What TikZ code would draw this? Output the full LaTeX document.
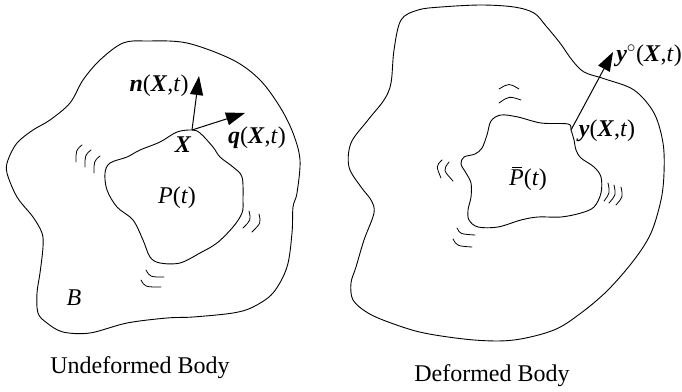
\documentclass[tikz,border=0pt]{standalone}
\usepackage{fontspec}
\setmainfont{Liberation Serif}
\usetikzlibrary{arrows.meta}
\begin{document}
\begin{tikzpicture}[x=1pt,y=-1pt,
  outline/.style={line width=0.9pt, line join=round},
  hatch/.style={line width=0.8pt, line cap=round},
  vec/.style={line width=1pt, -{Triangle[length=19pt,width=13pt]}},
  lbl/.style={font=\fontsize{24}{28}\selectfont, inner sep=0pt}]
\useasboundingbox (0,0) rectangle (682,391);
% ---------- undeformed body ----------
\draw[outline] plot[smooth cycle, tension=0.55] coordinates {
 (123,43) (147,41) (187,43) (233,60) (260,80) (280,107) (293,133) (300,160)
 (297,193) (293,207) (292,233) (287,267) (273,293) (253,307) (233,313)
 (193,317) (167,318) (127,323) (90,333) (63,332) (47,323) (38,313) (37,293)
 (40,273) (43,247) (42,233) (33,217) (17,197) (7,173) (8,160) (17,143)
 (33,130) (50,120) (70,103) (83,80) (100,60)};
\draw[outline] plot[smooth cycle, tension=0.55] coordinates {
 (192,130) (177,132) (160,142) (140,150) (127,157) (110,163) (105,173)
 (107,190) (117,207) (133,220) (143,240) (150,257) (160,263) (180,263)
 (200,253) (217,243) (233,227) (242,213) (243,200) (242,177) (233,167)
 (220,157) (213,147) (200,133)};
\foreach \a/\b/\c in {{82,145}/{76,150}/{76,162},{91,150}/{85,155}/{85,167},{100,156}/{94,161}/{94,173},
  {249,211}/{251,220}/{243,228},{259,214}/{261,223}/{252,232},
  {146,270}/{150,277}/{164,277},{141,280}/{145,287}/{161,287}}
  \draw[hatch] (\a) .. controls (\b) .. (\c);
\coordinate (X) at (192,130);
\coordinate (ntip) at (199,76);
\coordinate (qtip) at (245,113);
\draw[vec] (X) -- (ntip);
\draw[vec] (X) -- (qtip);
\node[lbl] (nlab) at (159,86) {\textbf{\textit{n}}(\textbf{\textit{X}},\textit{t})};
\node[lbl] (qlab) at (257,138) {\textbf{\textit{q}}(\textbf{\textit{X}},\textit{t})};
\node[lbl] (Xlab) at (183,145) {\textbf{\textit{X}}};
\node[lbl] (Plab) at (177,198) {\textit{P}(\textit{t})};
\node[lbl] (Blab) at (74,298) {\textit{B}};
\node[lbl] (ulab) at (140,368) {Undeformed Body};
% ---------- deformed body ----------
\draw[outline] plot[smooth cycle, tension=0.55] coordinates {
 (401,20) (418,10) (441,7) (481,5) (514,7) (534,13) (546,26) (560,43)
 (572,60) (584,72) (605,79) (634,90) (654,113) (663,143) (664,173) (661,200)
 (651,233) (634,260) (608,290) (581,313) (554,330) (514,340) (474,340)
 (424,333) (391,323) (368,313) (353,300) (351,283) (356,267) (364,240)
 (374,213) (371,200) (361,187) (349,167) (351,143) (368,120) (384,100)
 (391,83) (394,50)};
\draw[outline] plot[smooth cycle, tension=0.55] coordinates {
 (571,130) (568,124) (541,123) (518,117) (501,115) (491,121) (487,135)
 (482,148) (475,154) (464,157) (461,164) (466,173) (471,183) (471,197)
 (468,210) (469,220) (478,227) (498,227) (521,220) (538,217) (561,217)
 (581,213) (594,207) (601,193) (601,177) (594,167) (581,158) (576,150)
 (574,140)};
\foreach \a/\b/\c in {{499,89}/{509,83}/{519,89},{499,103}/{509,96}/{521,100},
  {442,160}/{436,166}/{441,178},{449,162}/{443,170}/{453,181},
  {608,183}/{610,193}/{604,201},{614,185}/{616,195}/{609,203},{621,187}/{623,197}/{616,205},
  {457,228}/{460,234}/{475,235},{453,239}/{457,246}/{472,247}}
  \draw[hatch] (\a) .. controls (\b) .. (\c);
\coordinate (Y) at (571,130);
\coordinate (ytip) at (613,52);
\draw[vec] (Y) -- (ytip);
\node[lbl] (yolab) at (649,56) {\textbf{\textit{y}}$^{\circ}$(\textbf{\textit{X}},\textit{t})};
\node[lbl] (ylab) at (607,131) {\textbf{\textit{y}}(\textbf{\textit{X}},\textit{t})};
\node[lbl] (Pblab) at (528,180) {\textit{P}(\textit{t})};
\draw[line width=0.9pt] ([xshift=3pt,yshift=1.5pt]Pblab.north west) -- ([xshift=13pt,yshift=1.5pt]Pblab.north west);
\node[lbl] (dlab) at (492,376) {Deformed Body};
\end{tikzpicture}
\end{document}
